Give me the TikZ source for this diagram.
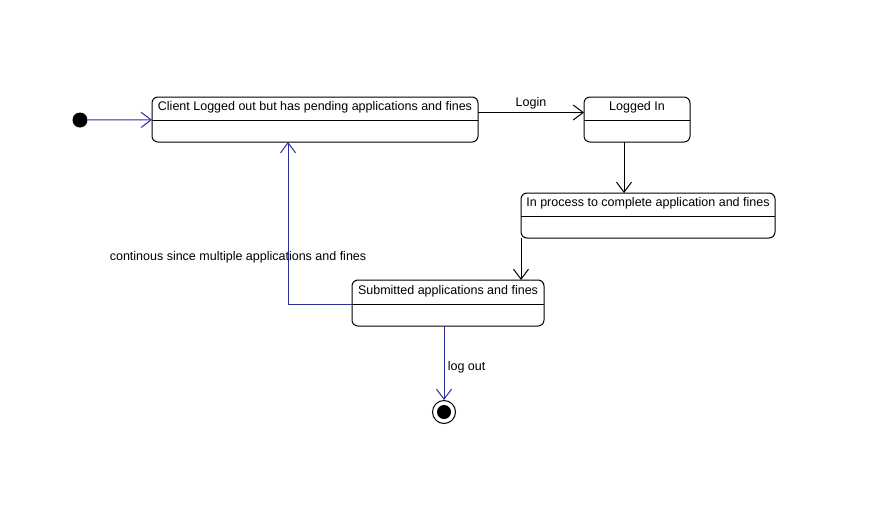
\documentclass[tikz,border=0pt]{standalone}
\usepackage{fontspec}
\setmainfont{Liberation Sans}
\usetikzlibrary{arrows.meta,positioning,calc}
\definecolor{umlblue}{RGB}{45,45,160}
\tikzset{
    statebox/.style={draw, rounded corners=6pt, fill=white, inner sep=0pt, outer sep=0pt, anchor=north west},
    trans/.style={-{Straight Barb[length=10pt,width=15pt]}},
}

\begin{document}
\begin{tikzpicture}[x=1pt, y=-1pt, line width=1pt, font=\fontsize{12.5}{14}\selectfont]
    \useasboundingbox (0,0) rectangle (888,517);
    % states
    \node[statebox, minimum width=326pt, minimum height=45pt] (client) at (152,97) {};
    \node at (315,107) {Client Logged out but has pending applications and fines};
    \draw ([yshift=-23pt]client.north west) -- ([yshift=-23pt]client.north east);

    \node[statebox, minimum width=106pt, minimum height=45pt] (loggedin) at (584,97) {};
    \node at (637,107) {Logged In};
    \draw ([yshift=-23pt]loggedin.north west) -- ([yshift=-23pt]loggedin.north east);

    \node[statebox, minimum width=254pt, minimum height=45pt] (process) at (521,193) {};
    \node at (648,203) {In process to complete application and fines};
    \draw ([yshift=-23pt]process.north west) -- ([yshift=-23pt]process.north east);

    \node[statebox, minimum width=192pt, minimum height=46pt] (submitted) at (352,280) {};
    \node at (448,291) {Submitted applications and fines};
    \draw ([yshift=-24pt]submitted.north west) -- ([yshift=-24pt]submitted.north east);

    % start and end
    \node[circle, fill, inner sep=0pt, minimum size=15pt] (init) at (80,120) {};
    \node[circle, draw, fill=white, inner sep=0pt, minimum size=23pt] (final) at (444,412) {};
    \fill (final) circle (7);

    % transitions
    \draw[trans, umlblue] (init) -- (client);
    \draw[trans] ([yshift=7pt]client.east) -- ([yshift=7pt]loggedin.west)
        node[midway, above=0pt, text=black] {Login};
    \draw[trans] ([xshift=-13pt]loggedin.south) -- ([xshift=-13pt]loggedin.south |- process.north);
    \draw[trans] (process.south west) -- (process.south west |- submitted.north);
    \draw[trans, umlblue] ([yshift=-1pt]submitted.west) -| ([xshift=-27pt]client.south);
    \node (loopnote) at (238,257) {continous since multiple applications and fines};
    \draw[trans, umlblue] (submitted.south -| final) -- (final)
        node[pos=0.56, right=0pt, text=black] {log out};
\end{tikzpicture}
\end{document}
